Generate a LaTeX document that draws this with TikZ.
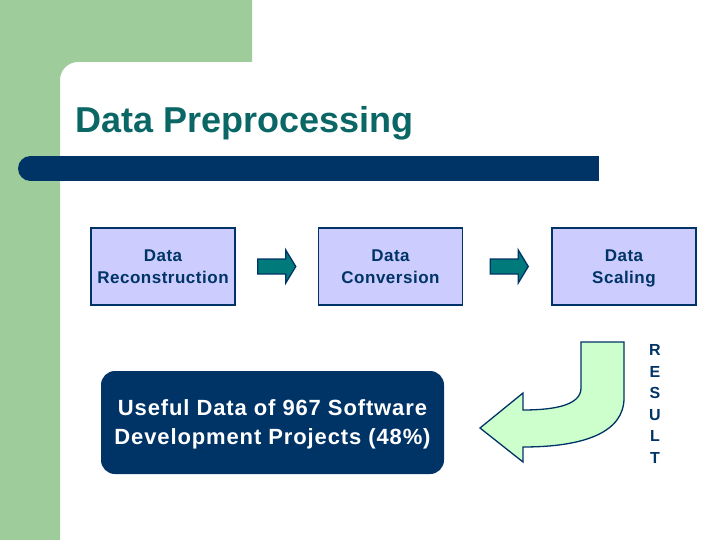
\documentclass[tikz,border=0pt]{standalone}
\usepackage{fontspec}
\setmainfont{Liberation Sans}
\newfontfamily\spacedfont[LetterSpace=3]{Liberation Sans}
\newfontfamily\widefont[LetterSpace=4]{Liberation Sans}
\usetikzlibrary{calc}

\definecolor{leafgreen}{HTML}{9ECC9A}
\definecolor{navy}{HTML}{003366}
\definecolor{titleteal}{HTML}{0B6666}
\definecolor{lavender}{HTML}{CCCCFF}
\definecolor{flowteal}{HTML}{007A7A}
\definecolor{mint}{HTML}{CCFFCC}

\tikzset{
  pics/blockarrow/.style={code={
    \draw[draw=navy,line width=1.3pt,fill=flowteal,line join=miter]
      (-19,-7.5) -- (9,-7.5) -- (9,-16.5) -- (19,0) -- (9,16.5) -- (9,7.5) -- (-19,7.5) -- cycle;
  }}
}

\begin{document}
\begin{tikzpicture}[x=1pt,y=-1pt,
  stage/.style={draw=navy,line width=1.8pt,fill=lavender,minimum width=144pt,minimum height=77pt,
    align=center,text depth=0pt,text=navy,font=\spacedfont\bfseries\fontsize{17}{22}\selectfont},
  resultbox/.style={fill=navy,rounded corners=14pt,minimum width=343pt,minimum height=103pt,
    align=center,text depth=0pt,text=white,font=\widefont\bfseries\fontsize{22}{29}\selectfont}]
\useasboundingbox (0,0) rectangle (720,540);
\fill[white] (0,0) rectangle (720,540);
% green frame
\fill[leafgreen] (0,0) -- (252,0) -- (252,62) -- (78,62) .. controls (68,62) and (60,70) .. (60,80) -- (60,540) -- (0,540) -- cycle;
% title and bar
\node[anchor=base west,inner sep=0,text=titleteal,font=\bfseries\fontsize{36}{40}\selectfont] (title) at (75,133) {Data Preprocessing};
\fill[navy] (30.5,168.5) circle (12.5);
\fill[navy] (30.5,156) rectangle (599,181);
% stages
\node[stage] (recon) at (163,266.5) {Data\\Reconstruction};
\node[stage] (conv) at (390.5,266.5) {Data\\Conversion};
\node[stage] (scale) at (624,266.5) {Data\\Scaling};
\pic at ($(recon.east)!0.5!(conv.west)$) {blockarrow};
\pic at ($(conv.east)!0.5!(scale.west)+(2,0)$) {blockarrow};
% turn back to the result
\draw[draw=navy,line width=1.3pt,fill=mint,line join=miter]
  (581,342) -- (624,342) -- (624,398) .. controls (624,432) and (585,447) .. (523,447)
  -- (523,462) -- (480,428) -- (523,393) -- (523,410)
  .. controls (555,410) and (581,405) .. (581,388) -- cycle;
\node[align=center,text=navy,font=\bfseries\fontsize{16}{21.6}\selectfont] (result) at (655,404) {R\\E\\S\\U\\L\\T};
\node[resultbox] (useful) at (272.5,422.5) {Useful Data of 967 Software\\Development Projects (48\%)};
\end{tikzpicture}
\end{document}
